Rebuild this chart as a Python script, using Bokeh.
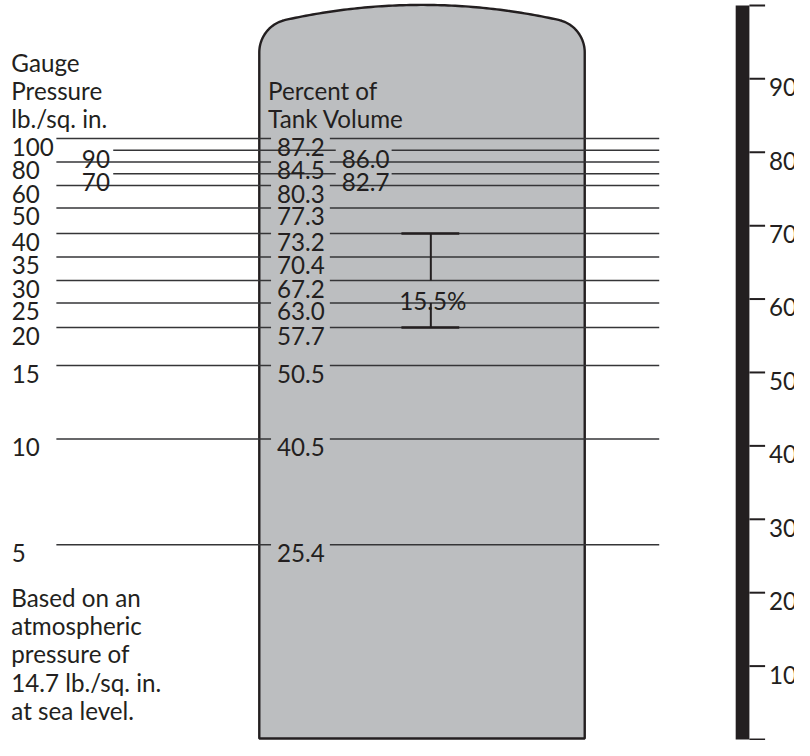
import numpy as np
from bokeh.plotting import figure
from bokeh.models import Range1d
from bokeh.core.properties import value
from bokeh.embed import file_html
from bokeh.resources import INLINE

# ---------------- data ----------------
gauge_psi = [100, 90, 80, 70, 60, 50, 40, 35, 30, 25, 20, 15, 10, 5]
tank_pct = [87.2, 86.0, 84.5, 82.7, 80.3, 77.3, 73.2, 70.4, 67.2, 63.0, 57.7, 50.5, 40.5, 25.4]
offset_psi = [90, 70]            # rows whose labels sit in the second column
bracket_psi = [40, 20]           # span marked by the bracket
ruler_ticks = [0, 10, 20, 30, 40, 50, 60, 70, 80, 90, 100]
ruler_labels = [10, 20, 30, 40, 50, 60, 70, 80, 90]
left_title = ["Gauge", "Pressure", "lb./sq. in."]
tank_title = ["Percent of", "Tank Volume"]
footnote = ["Based on an", "atmospheric", "pressure of", "14.7 lb./sq. in.", "at sea level."]

# ---------------- layout (diagram units = reference pixels) ----------------
row_y = [141, 153, 165, 177, 189, 212, 238, 262, 286, 309, 334, 373, 448, 556]

W, H = 794, 740
REF_W, REF_H = 810, 756
FONT = value("Lato")
FS = "24.2px"
INK = "#231f20"
LINE = "#353537"
HALF_CAP = 8.6     # half of the digit height

p = figure(width=W, height=H, x_range=Range1d(0, REF_W), y_range=Range1d(REF_H, 0),
           output_backend="svg", toolbar_location=None, min_border=0,
           x_axis_location=None, y_axis_location=None)
p.grid.visible = False
p.outline_line_color = None
p.background_fill_color = "white"
p.border_fill_color = "white"

# ---------------- tank outline ----------------
xl, xr, crown, bottom = 264.0, 596.0, 4.5, 754.0
R, r = 640.0, 34.0
cx, cy = (xl + xr) / 2, crown + R
ccx_l = xl + r
yc = cy - np.sqrt((R - r) ** 2 - (cx - ccx_l) ** 2)
a1 = np.arctan2(yc - cy, ccx_l - cx)
t = np.linspace(np.pi, a1 + 2 * np.pi, 30)
cl_x, cl_y = ccx_l + r * np.cos(t), yc + r * np.sin(t)
b = np.linspace(a1, -np.pi - a1, 80)
arc_x, arc_y = cx + R * np.cos(b), cy + R * np.sin(b)
t2 = np.linspace(-np.pi - a1, 0, 30)
cr_x, cr_y = (xr - r) + r * np.cos(t2), yc + r * np.sin(t2)
tank_x = np.concatenate([[xl], cl_x, arc_x, cr_x, [xr, xr, xl]])
tank_y = np.concatenate([[bottom], cl_y, arc_y, cr_y, [yc, bottom, bottom]])
p.patch(tank_x, tank_y, fill_color="#bcbec0", line_color=INK, line_width=2.4)

# ---------------- rows ----------------
is_off = [g in offset_psi for g in gauge_psi]
seg_x0, seg_x1, seg_y = [], [], []
for y, off in zip(row_y, is_off):
    if off:
        seg_x0 += [115, 399]; seg_x1 += [342, 672]
    else:
        seg_x0 += [57, 336]; seg_x1 += [276, 672]
    seg_y += [y, y]
p.segment(x0=seg_x0, x1=seg_x1, y0=seg_y, y1=seg_y, line_color=LINE, line_width=1.5)

lab_y = [y + HALF_CAP for y in row_y]
p.text(x=[83 if o else 11.5 for o in is_off], y=lab_y, text=[str(g) for g in gauge_psi],
       text_font=FONT, text_font_size=FS, text_color=INK, text_baseline="alphabetic")
p.text(x=[348 if o else 282 for o in is_off], y=lab_y, text=[f"{v:.1f}" for v in tank_pct],
       text_font=FONT, text_font_size=FS, text_color=INK, text_baseline="alphabetic")

# ---------------- bracket ----------------
i_top, i_bot = gauge_psi.index(bracket_psi[0]), gauge_psi.index(bracket_psi[1])
y_top, y_bot = row_y[i_top], row_y[i_bot]
gap_a, gap_b = row_y[gauge_psi.index(30)], row_y[gauge_psi.index(25)]
bx = 439
p.segment(x0=[409, 409], x1=[468, 468], y0=[y_top, y_bot], y1=[y_top, y_bot],
          line_color=INK, line_width=2.5)
p.segment(x0=[bx, bx], x1=[bx, bx], y0=[y_top, gap_b], y1=[gap_a, y_bot],
          line_color=INK, line_width=2)
span = tank_pct[i_top] - tank_pct[i_bot]
p.text(x=[441], y=[(gap_a + gap_b) / 2 + HALF_CAP], text=[f"{span:.1f}%"],
       text_font=FONT, text_font_size=FS, text_color=INK, text_align="center",
       text_baseline="alphabetic")

# ---------------- titles and note ----------------
p.text(x=[11] * 3, y=[63, 92, 121], text=left_title, text_font=FONT, text_font_size=FS,
       text_color=INK, text_baseline="alphabetic")
p.text(x=[273] * 2, y=[92, 121], text=tank_title, text_font=FONT, text_font_size=FS,
       text_color=INK, text_baseline="alphabetic")
p.text(x=[11] * 5, y=[610 + 28.75 * i for i in range(5)], text=footnote, text_font=FONT,
       text_font_size=FS, text_color=INK, text_baseline="alphabetic")

# ---------------- ruler on the right ----------------
px_per = (755 - 5) / 100.0
p.extra_y_ranges = {"ruler": Range1d(start=(755 - REF_H) / px_per, end=755 / px_per)}
p.quad(left=[750], right=[764], bottom=[0], top=[100], y_range_name="ruler",
       fill_color=INK, line_color=None)
p.segment(x0=764, x1=780, y0=ruler_ticks, y1=ruler_ticks, y_range_name="ruler",
          line_color=INK, line_width=2)
p.text(x=784, y=[v - HALF_CAP / px_per for v in ruler_labels], text=[str(v) for v in ruler_labels],
       y_range_name="ruler", text_font=FONT, text_font_size=FS, text_color=INK,
       text_baseline="alphabetic")

open("out.html", "w").write(file_html(p, INLINE))
